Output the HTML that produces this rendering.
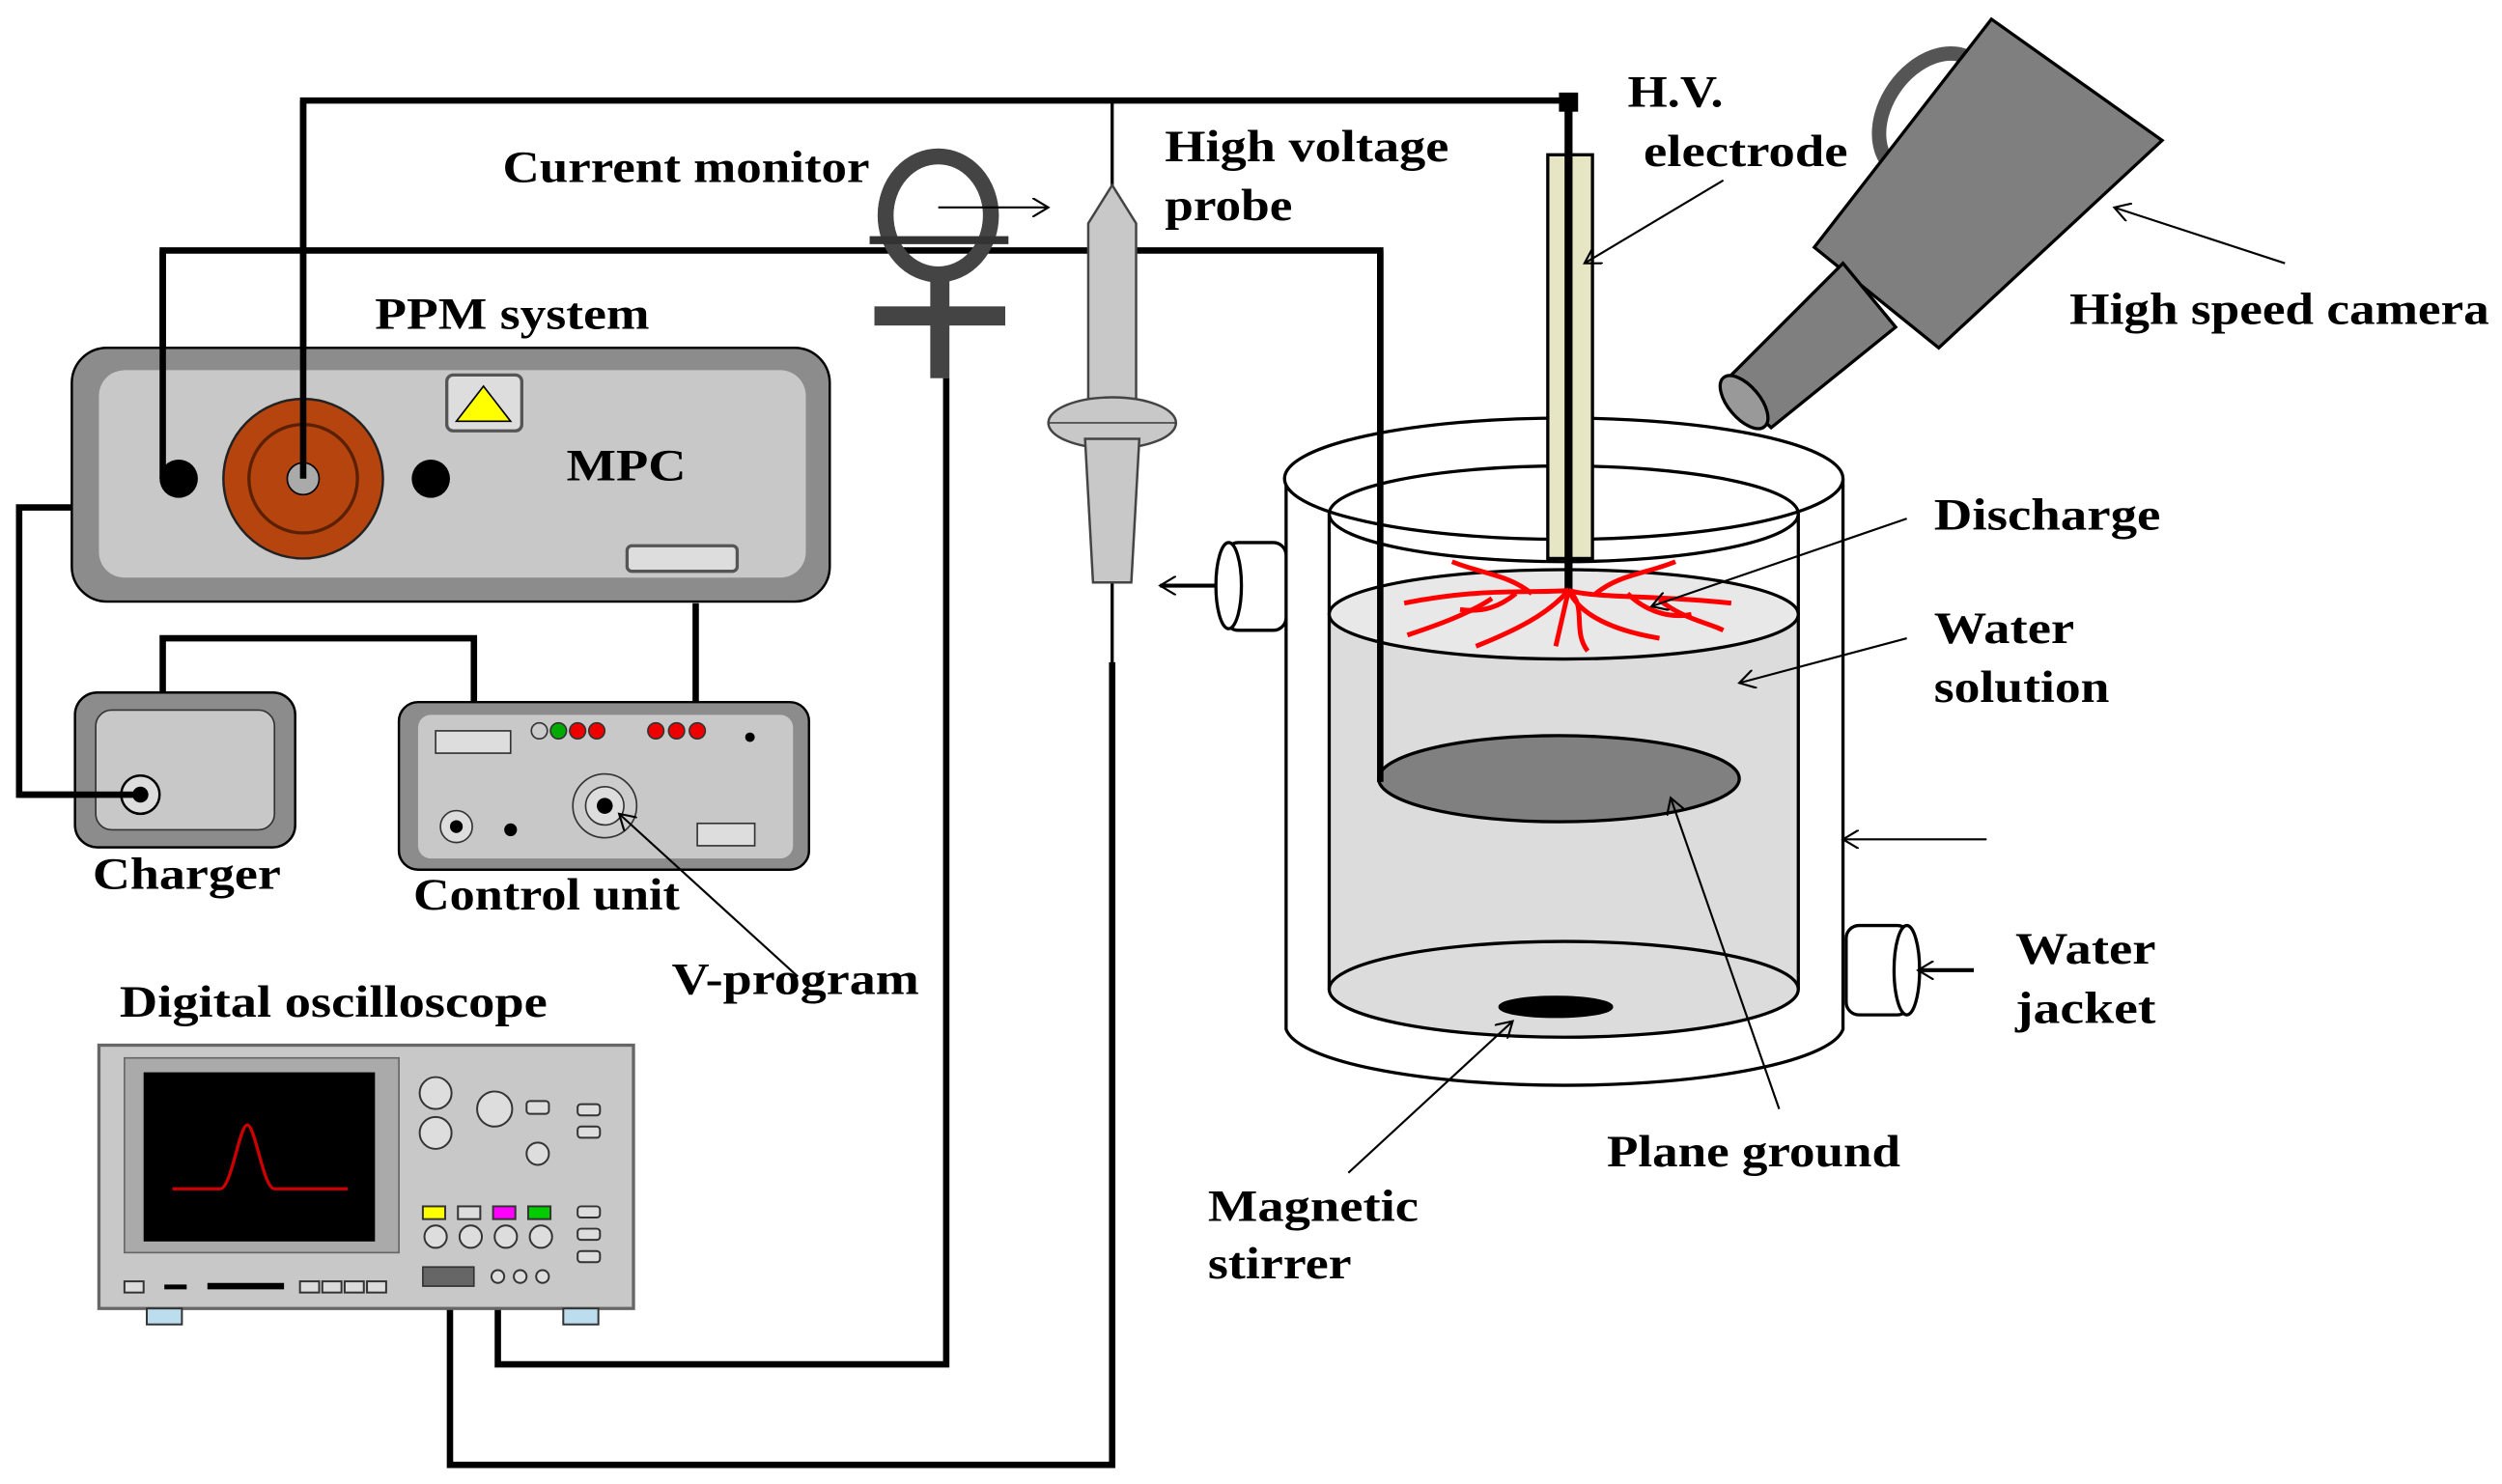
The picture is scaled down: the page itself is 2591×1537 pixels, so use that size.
<!DOCTYPE html>
<html><head><meta charset="utf-8"><style>html,body{margin:0;padding:0;background:#fff}svg{display:block}text{font-family:"Liberation Serif",serif;font-weight:bold;font-size:28px;fill:#000}</style></head><body>
<svg width="2591" height="1537" viewBox="0 0 1568 930" preserveAspectRatio="none" xmlns="http://www.w3.org/2000/svg">
<defs><marker id="a" markerWidth="12" markerHeight="12" refX="10" refY="6" orient="auto" markerUnits="userSpaceOnUse"><path d="M0,0 L10,6 L0,12" fill="none" stroke="#000" stroke-width="1.3"/></marker></defs>
<rect width="1568" height="930" fill="#fff"/>
<g fill="none" stroke="#000" stroke-width="4">
<polyline points="190,300 190,63 983,63"/>
<line x1="697" y1="63" x2="697" y2="118" stroke-width="2"/>
<polyline points="102,300 102,157 865,157 865,490"/>
<polyline points="45,318 12,318 12,498 88,498"/>
<polyline points="102,435 102,400 297,400 297,440"/>
<line x1="436" y1="378" x2="436" y2="440"/>
<polyline points="312,798 312,855 593,855 593,237"/>
<polyline points="282,805 282,918 697,918 697,415"/>
</g>
<line x1="697" y1="365" x2="697" y2="420" stroke="#000" stroke-width="2"/>
<rect x="977" y="58" width="12" height="12" fill="#000"/>
<g stroke="#000" stroke-width="2">
<ellipse cx="1212" cy="72" rx="30" ry="42" transform="rotate(35 1212 72)" fill="none" stroke="#555" stroke-width="9"/>
<polygon points="1248,12 1355,88 1215,218 1137,155" fill="#7f7f7f"/>
<polygon points="1155,165 1188,205 1110,268 1080,240" fill="#7f7f7f"/>
<ellipse cx="1093" cy="252" rx="10" ry="20" transform="rotate(-40 1093 252)" fill="#999"/>
</g>
<g stroke="#000" stroke-width="2">
<path d="M806,300 L806,645 A175,38 0 0 0 1155,645 L1155,300" fill="#fff"/>
<ellipse cx="980" cy="300" rx="175" ry="38" fill="#fff"/>
<path d="M833,385 L833,620 A147,30 0 0 0 1127,620 L1127,385 Z" fill="#dcdcdc" stroke="none"/>
<line x1="833" y1="322" x2="833" y2="620"/>
<line x1="1127" y1="322" x2="1127" y2="620"/>
<ellipse cx="980" cy="322" rx="147" ry="30" fill="none"/>
<ellipse cx="980" cy="385" rx="147" ry="28" fill="#e8e8e8"/>
<ellipse cx="980" cy="620" rx="147" ry="30" fill="#dcdcdc"/>
<ellipse cx="977" cy="488" rx="113" ry="27" fill="#808080"/>
<ellipse cx="975" cy="631" rx="35" ry="6" fill="#000"/>
<rect x="768" y="340" width="38" height="55" rx="8" fill="#fff"/>
<ellipse cx="770" cy="367" rx="8" ry="27" fill="#fff"/>
<rect x="1157" y="580" width="40" height="56" rx="8" fill="#fff"/>
<ellipse cx="1195" cy="608" rx="8" ry="28" fill="#fff"/>
</g>
<line x1="865" y1="157" x2="865" y2="490" stroke="#000" stroke-width="4"/>
<rect x="970" y="97" width="28" height="253" fill="#e6e6c4" stroke="#000" stroke-width="2"/>
<line x1="983" y1="63" x2="983" y2="372" stroke="#000" stroke-width="5"/>
<g stroke="#f00" stroke-width="3" fill="none">
<path d="M983,370 C960,372 930,368 880,378"/><path d="M983,370 C1000,375 1040,373 1085,378"/><path d="M983,370 C970,385 950,395 925,405"/><path d="M983,370 C990,385 1010,395 1040,400"/><path d="M983,370 L975,405"/><path d="M983,370 C995,380 985,395 995,408"/><path d="M960,372 C945,360 930,360 910,352"/><path d="M1000,372 C1015,360 1030,360 1050,352"/><path d="M935,375 C920,385 900,392 882,398"/><path d="M1040,376 C1055,388 1070,390 1080,395"/><path d="M950,372 C940,380 930,384 915,382"/><path d="M1020,372 C1030,382 1045,388 1060,385"/>
</g>
<rect x="45" y="218" width="475" height="159" rx="22" fill="#8c8c8c" stroke="#000" stroke-width="1.5"/>
<rect x="62" y="232" width="443" height="130" rx="16" fill="#c8c8c8"/>
<circle cx="190" cy="300" r="50" fill="#b5440f" stroke="#222" stroke-width="1.5"/>
<circle cx="190" cy="300" r="34" fill="none" stroke="#5a2000" stroke-width="2"/>
<circle cx="190" cy="300" r="10" fill="#aaa" stroke="#000"/>
<circle cx="112" cy="300" r="12" fill="#000"/><circle cx="270" cy="300" r="12" fill="#000"/>
<rect x="280" y="235" width="47" height="35" rx="4" fill="#ddd" stroke="#555" stroke-width="2"/>
<polygon points="303,242 320,264 286,264" fill="#ff0" stroke="#000"/>
<rect x="393" y="342" width="69" height="16" rx="3" fill="#ddd" stroke="#555" stroke-width="2"/>
<line x1="190" y1="63" x2="190" y2="300" stroke="#000" stroke-width="4"/>
<line x1="102" y1="157" x2="102" y2="300" stroke="#000" stroke-width="4"/>
<rect x="47" y="434" width="138" height="97" rx="14" fill="#8c8c8c" stroke="#000" stroke-width="1.5"/>
<rect x="60" y="445" width="112" height="75" rx="10" fill="#c8c8c8" stroke="#333"/>
<circle cx="88" cy="498" r="12" fill="#ddd" stroke="#000" stroke-width="1.5"/><circle cx="88" cy="498" r="5" fill="#000"/>
<line x1="12" y1="498" x2="88" y2="498" stroke="#000" stroke-width="4"/>
<rect x="250" y="440" width="257" height="105" rx="12" fill="#8c8c8c" stroke="#000" stroke-width="1.5"/>
<rect x="262" y="448" width="235" height="90" rx="8" fill="#c8c8c8"/>
<rect x="273" y="458" width="47" height="14" fill="#ddd" stroke="#333"/>
<circle cx="338" cy="458" r="5" fill="#ccc" stroke="#333"/><circle cx="350" cy="458" r="5" fill="#0a0" stroke="#333"/><circle cx="362" cy="458" r="5" fill="#e00" stroke="#333"/><circle cx="374" cy="458" r="5" fill="#e00" stroke="#333"/>
<circle cx="411" cy="458" r="5" fill="#e00" stroke="#333"/><circle cx="424" cy="458" r="5" fill="#e00" stroke="#333"/><circle cx="437" cy="458" r="5" fill="#e00" stroke="#333"/>
<circle cx="470" cy="462" r="3" fill="#000"/>
<circle cx="286" cy="518" r="10" fill="#ddd" stroke="#333"/><circle cx="286" cy="518" r="4" fill="#000"/>
<circle cx="320" cy="520" r="4" fill="#000"/>
<circle cx="379" cy="505" r="20" fill="#ccc" stroke="#333"/><circle cx="379" cy="505" r="12" fill="#ddd" stroke="#333"/><circle cx="379" cy="505" r="5" fill="#000"/>
<rect x="437" y="516" width="36" height="14" fill="#ddd" stroke="#333"/>
<rect x="62" y="655" width="335" height="165" fill="#c8c8c8" stroke="#666" stroke-width="2"/>
<rect x="78" y="663" width="172" height="122" fill="#aaa" stroke="#666"/>
<rect x="90" y="672" width="145" height="106" fill="#000"/>
<path d="M108,745 L138,745 C145,745 150,705 155,705 C160,705 165,745 172,745 L218,745" stroke="#c00" stroke-width="2" fill="none"/>
<g fill="#ddd" stroke="#333" stroke-width="1.2">
<circle cx="273" cy="685" r="10"/><circle cx="273" cy="710" r="10"/><circle cx="310" cy="695" r="11"/><circle cx="337" cy="723" r="7"/>
<rect x="330" y="690" width="14" height="8" rx="2"/><rect x="362" y="692" width="14" height="7" rx="2"/><rect x="362" y="706" width="14" height="7" rx="2"/>
<rect x="265" y="756" width="14" height="8" fill="#ff0"/><rect x="287" y="756" width="14" height="8"/><rect x="309" y="756" width="14" height="8" fill="#f0f"/><rect x="331" y="756" width="14" height="8" fill="#0c0"/>
<circle cx="273" cy="775" r="7"/><circle cx="295" cy="775" r="7"/><circle cx="317" cy="775" r="7"/><circle cx="339" cy="775" r="7"/>
<rect x="362" y="756" width="14" height="7" rx="2"/><rect x="362" y="770" width="14" height="7" rx="2"/><rect x="362" y="784" width="14" height="7" rx="2"/>
<rect x="78" y="803" width="12" height="7"/><rect x="188" y="803" width="12" height="7"/><rect x="202" y="803" width="12" height="7"/><rect x="216" y="803" width="12" height="7"/><rect x="230" y="803" width="12" height="7"/>
<rect x="92" y="820" width="22" height="10" fill="#bde"/><rect x="353" y="820" width="22" height="10" fill="#bde"/>
<circle cx="312" cy="800" r="4"/><circle cx="326" cy="800" r="4"/><circle cx="340" cy="800" r="4"/>
</g>
<rect x="103" y="805" width="14" height="3" fill="#000"/><rect x="130" y="804" width="48" height="4" fill="#000"/>
<rect x="265" y="794" width="32" height="12" fill="#666" stroke="#333"/>
<ellipse cx="588" cy="135" rx="33" ry="37" fill="none" stroke="#444" stroke-width="10"/>
<rect x="545" y="148" width="87" height="5" fill="#333"/>
<rect x="583" y="172" width="12" height="65" fill="#444"/>
<rect x="548" y="192" width="82" height="12" fill="#444"/>
<g stroke="#444" stroke-width="1.5" fill="#c8c8c8">
<path d="M697,116 L712,140 L712,250 L682,250 L682,140 Z"/>
<ellipse cx="697" cy="265" rx="40" ry="16"/>
<path d="M680,275 L714,275 L709,365 L685,365 Z"/>
</g>
<line x1="657" y1="265" x2="737" y2="265" stroke="#444"/>
<g stroke="#000" stroke-width="1.3" fill="none" marker-end="url(#a)">
<line x1="588" y1="130" x2="657" y2="130"/>
<line x1="1080" y1="113" x2="993" y2="165"/>
<line x1="1432" y1="165" x2="1325" y2="130"/>
<line x1="1195" y1="325" x2="1035" y2="380"/>
<line x1="1195" y1="400" x2="1090" y2="428"/>
<line x1="1245" y1="526" x2="1155" y2="526"/>
<line x1="1115" y1="695" x2="1047" y2="500"/>
<line x1="845" y1="735" x2="948" y2="640"/>
<line x1="500" y1="612" x2="388" y2="510"/>
</g>
<g stroke="#000" stroke-width="2.5" fill="none" marker-end="url(#a)">
<line x1="762" y1="367" x2="727" y2="367"/>
<line x1="1237" y1="608" x2="1202" y2="608"/>
</g>
<g>
<text x="315" y="114" textLength="230" lengthAdjust="spacingAndGlyphs">Current monitor</text>
<text x="730" y="101" textLength="178" lengthAdjust="spacingAndGlyphs">High voltage</text><text x="730" y="138" textLength="80" lengthAdjust="spacingAndGlyphs">probe</text>
<text x="1020" y="67" textLength="60" lengthAdjust="spacingAndGlyphs">H.V.</text><text x="1030" y="104" textLength="128" lengthAdjust="spacingAndGlyphs">electrode</text>
<text x="1297" y="203" textLength="263" lengthAdjust="spacingAndGlyphs">High speed camera</text>
<text x="235" y="206" textLength="172" lengthAdjust="spacingAndGlyphs">PPM system</text>
<text x="355" y="301" textLength="75" lengthAdjust="spacingAndGlyphs">MPC</text>
<text x="1212" y="332" textLength="142" lengthAdjust="spacingAndGlyphs">Discharge</text>
<text x="1212" y="403" textLength="88" lengthAdjust="spacingAndGlyphs">Water</text><text x="1212" y="440" textLength="110" lengthAdjust="spacingAndGlyphs">solution</text>
<text x="58" y="557" textLength="118" lengthAdjust="spacingAndGlyphs">Charger</text>
<text x="259" y="570" textLength="167" lengthAdjust="spacingAndGlyphs">Control unit</text>
<text x="421" y="623" textLength="155" lengthAdjust="spacingAndGlyphs">V-program</text>
<text x="75" y="637" textLength="268" lengthAdjust="spacingAndGlyphs">Digital oscilloscope</text>
<text x="1263" y="604" textLength="88" lengthAdjust="spacingAndGlyphs">Water</text><text x="1263" y="641" textLength="88" lengthAdjust="spacingAndGlyphs">jacket</text>
<text x="1007" y="731" textLength="184" lengthAdjust="spacingAndGlyphs">Plane ground</text>
<text x="757" y="765" textLength="132" lengthAdjust="spacingAndGlyphs">Magnetic</text><text x="757" y="801" textLength="90" lengthAdjust="spacingAndGlyphs">stirrer</text>
</g>
</svg>
</body></html>
